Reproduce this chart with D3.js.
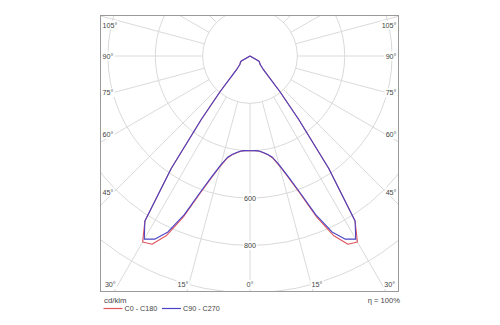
<!DOCTYPE html>
<html><head><meta charset="utf-8">
<script src="https://cdn.jsdelivr.net/npm/d3@7"></script>
<style>
html,body{margin:0;padding:0;background:#fff;}
svg{display:block;font-family:"Liberation Sans",Arial,sans-serif;}
</style></head>
<body>
<svg id="chart" width="500" height="325"></svg>
<script>
// Luminous intensity data (cd/klm) by gamma angle (degrees)
const gammaAngles = [0,2.5,5,7.5,10,12.5,15,17.5,20,22.5,25,27.5,30,32.5,35,37.5,40,45,50,55,60,65,90,120,150,180];
const c0c180 =  [400,400,403,411,422,441,480,538,618,737,838,896,907,826,579,338,197,78,56,50,44,0,0,0,0,0];
const c90c270 = [400,400,402,410,421,438,476,532,610,725,820,872,893,826,579,338,197,78,56,50,44,0,0,0,0,0];
const ringValues = [200,400,600,800,1000];
const ringLabels = ["600","800"];
const spokeAngles = [0,15,30,45,60,75,90,105,120,135,150,165,180];
const sideLabels = ["45°","60°","75°","90°","105°"];
const sideLabelAngles = [45,60,75,90,105];
const bottomLabelAngles = [30,15,0,15,30];
const bottomLabelSides = [-1,-1,0,1,1];
const seriesNames = ["C0 - C180","C90 - C270"];
const seriesColors = ["#e0545e","#4a44c4"];
const unitLabel = "cd/klm";
const etaLabel = "η = 100%";

const svg = d3.select("#chart");
const box = {x0:100, x1:399, y0:15, y1:291};
const cx = 250, cy = 56;
const r = d3.scaleLinear().domain([0,1000]).range([0,236.8]);
const toRad = d => d*Math.PI/180;

svg.append("defs").append("clipPath").attr("id","clip")
  .append("rect").attr("x",box.x0).attr("y",box.y0)
  .attr("width",box.x1-box.x0).attr("height",box.y1-box.y0);

const g = svg.append("g").attr("clip-path","url(#clip)");
const grid = g.append("g").attr("transform",`translate(${cx},${cy})`);
const gridColor = "#dadada";

// rings
grid.selectAll("circle.ring").data(ringValues).join("circle")
  .attr("r", d=>r(d)).attr("fill","none").attr("stroke",gridColor).attr("stroke-width",1);

// spokes (both sides)
const spokes = [];
spokeAngles.forEach(a=>{ spokes.push({a, s:-1}); if(a>0 && a<180) spokes.push({a, s:1}); });
grid.selectAll("line.spoke").data(spokes).join("line")
  .attr("x1", d=>d.s*r(200)*Math.sin(toRad(d.a)))
  .attr("y1", d=>r(200)*Math.cos(toRad(d.a)))
  .attr("x2", d=>d.s*r(2000)*Math.sin(toRad(d.a)))
  .attr("y2", d=>r(2000)*Math.cos(toRad(d.a)))
  .attr("stroke",gridColor).attr("stroke-width",1);

// curves
function pts(vals){
  const left = gammaAngles.map((gm,i)=>[Math.PI+toRad(gm), r(vals[i])]).reverse();
  const right = gammaAngles.map((gm,i)=>[Math.PI-toRad(gm), r(vals[i])]);
  return left.concat(right.slice(1));
}
const line = d3.lineRadial().angle(d=>d[0]).radius(d=>d[1]).curve(d3.curveLinear);
[c0c180, c90c270].forEach((vals,i)=>{
  grid.append("path").attr("d", line(pts(vals)))
    .attr("fill","none").attr("stroke",seriesColors[i]).attr("stroke-width",1.1)
    .attr("stroke-linejoin","round");
});

// labels with white background
const textColor = "#444";
function label(x,y,txt,anchor,size){
  const t = svg.append("text").attr("x",x).attr("y",y).attr("text-anchor",anchor)
    .attr("dominant-baseline","central").attr("font-size",size||7.2).attr("fill",textColor).text(txt);
  const b = t.node().getBBox();
  svg.insert("rect","text").attr("x",b.x-1).attr("y",b.y).attr("width",b.width+2).attr("height",b.height)
    .attr("fill","#fff");
  t.raise();
  return t;
}
// ring labels
ringLabels.forEach(v=>label(cx, cy + r(+v), v, "middle"));
// side labels
sideLabelAngles.forEach((a,i)=>{
  let y = cy + 136/Math.tan(toRad(a));
  y = Math.max(y, box.y0+10);
  label(box.x0+2.5, y, sideLabels[i], "start");
  label(box.x1-2.5, y, sideLabels[i], "end");
});
// bottom labels
bottomLabelAngles.forEach((a,i)=>{
  const s = bottomLabelSides[i];
  const x = cx + s*((box.y1-cy)*Math.tan(toRad(a)) + 4);
  label(x, 284.5, a+"°", "middle");
});

// frame
svg.append("rect").attr("x",box.x0+0.5).attr("y",box.y0+0.5)
  .attr("width",box.x1-box.x0-1).attr("height",box.y1-box.y0)
  .attr("fill","none").attr("stroke","#9a9a9a").attr("stroke-width",1);

// legend
svg.append("text").attr("x",104).attr("y",303).attr("font-size",7.8).attr("fill",textColor).text(unitLabel);
svg.append("text").attr("x",400).attr("y",303).attr("text-anchor","end").attr("font-size",7.6).attr("fill",textColor).text(etaLabel);
const legendX = [103.5,162];
seriesNames.forEach((n,i)=>{
  svg.append("line").attr("x1",legendX[i]).attr("x2",legendX[i]+19).attr("y1",308.5).attr("y2",308.5)
    .attr("stroke",seriesColors[i]).attr("stroke-width",1.2);
  svg.append("text").attr("x",legendX[i]+21).attr("y",311).attr("font-size",7.2).attr("fill",textColor).text(n);
});
</script>
</body></html>
